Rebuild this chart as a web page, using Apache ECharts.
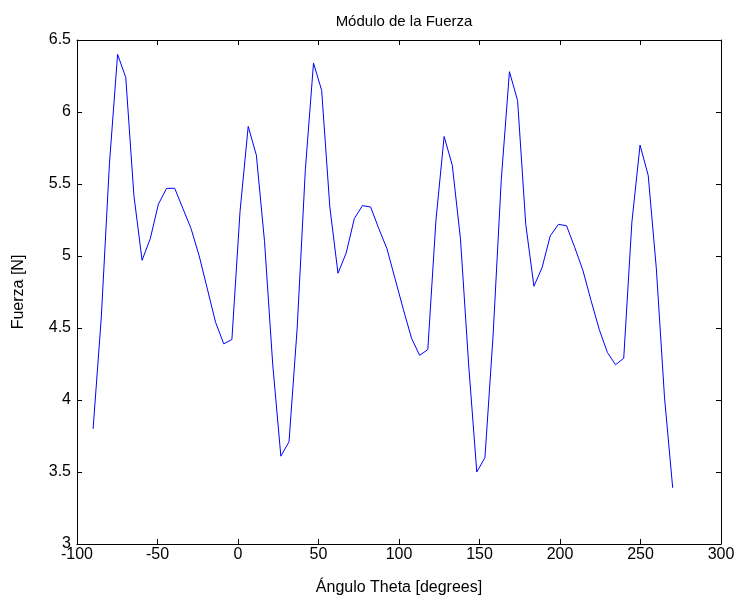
<!DOCTYPE html>
<html>
<head>
<meta charset="utf-8">
<script src="https://cdn.jsdelivr.net/npm/echarts@6/dist/echarts.min.js"></script>
<style>html,body{margin:0;padding:0;background:#fff}#c{width:740px;height:601px}</style>
</head>
<body>
<div id="c"></div>
<script>
const titleText = 'Módulo de la Fuerza';
const xName = 'Ángulo Theta [degrees]';
const yName = 'Fuerza [N]';
const angles = [-90, -84.93, -79.86, -74.79, -69.72, -64.65, -59.58, -54.51, -49.44, -44.37,
  -39.30, -34.23, -29.15, -24.08, -19.01, -13.94, -8.87, -3.80, 1.27, 6.34,
  11.41, 16.48, 21.55, 26.62, 31.69, 36.76, 41.83, 46.90, 51.97, 57.04,
  62.11, 67.18, 72.25, 77.32, 82.39, 87.46, 92.54, 97.61, 102.68, 107.75,
  112.82, 117.89, 122.96, 128.03, 133.10, 138.17, 143.24, 148.31, 153.38, 158.45,
  163.52, 168.59, 173.66, 178.73, 183.80, 188.87, 193.94, 199.01, 204.08, 209.15,
  214.23, 219.30, 224.37, 229.44, 234.51, 239.58, 244.65, 249.72, 254.79, 259.86,
  264.93, 270];
const fuerza = [3.80, 4.57, 5.64, 6.40, 6.24, 5.42, 4.97, 5.12, 5.36, 5.47,
  5.47, 5.33, 5.19, 5.00, 4.77, 4.54, 4.39, 4.42, 5.31, 5.90,
  5.70, 5.10, 4.25, 3.61, 3.71, 4.50, 5.60, 6.34, 6.15, 5.34,
  4.88, 5.02, 5.26, 5.35, 5.34, 5.19, 5.05, 4.84, 4.63, 4.43,
  4.31, 4.35, 5.25, 5.83, 5.63, 5.12, 4.25, 3.50, 3.60, 4.45,
  5.53, 6.28, 6.08, 5.22, 4.79, 4.92, 5.14, 5.22, 5.21, 5.06,
  4.90, 4.69, 4.49, 4.33, 4.245, 4.29, 5.235, 5.77, 5.56, 4.91,
  4.015, 3.39];

const data = angles.map((a, i) => [a, fuerza[i]]);
const font = '"Liberation Sans", Arial, sans-serif';
const axisCommon = {
  axisLine: { show: true, onZero: false, lineStyle: { color: '#000', width: 1 } },
  axisTick: { show: true, inside: true, length: 5, lineStyle: { color: '#000' } },
  splitLine: { show: false }
};
const chart = echarts.init(document.getElementById('c'), null, { renderer: 'canvas' });
chart.setOption({
  animation: false,
  backgroundColor: '#fff',
  title: {
    text: titleText, left: 399, top: 9, textAlign: 'center',
    textStyle: { fontFamily: font, fontSize: 15, fontWeight: 'normal', color: '#000' }
  },
  grid: { left: 77, right: 19, top: 40, bottom: 54 },
  xAxis: [
    Object.assign({
      type: 'value', min: -100, max: 300, interval: 50, position: 'bottom',
      name: xName, nameLocation: 'middle', nameGap: 36,
      nameTextStyle: { fontFamily: font, fontSize: 16, color: '#000' },
      axisLabel: { fontFamily: font, fontSize: 16, color: '#000', margin: 3 }
    }, axisCommon),
    Object.assign({
      type: 'value', min: -100, max: 300, interval: 50, position: 'top',
      axisLabel: { show: false }
    }, axisCommon)
  ],
  yAxis: [
    Object.assign({
      type: 'value', min: 3, max: 6.5, interval: 0.5, position: 'left',
      name: yName, nameLocation: 'middle', nameGap: 50,
      nameTextStyle: { fontFamily: font, fontSize: 16, color: '#000' },
      axisLabel: { fontFamily: font, fontSize: 16, color: '#000', margin: 6 }
    }, axisCommon),
    Object.assign({
      type: 'value', min: 3, max: 6.5, interval: 0.5, position: 'right',
      axisLabel: { show: false }
    }, axisCommon)
  ],
  series: [{
    type: 'line', data: data, xAxisIndex: 0, yAxisIndex: 0,
    showSymbol: false, symbol: 'none',
    lineStyle: { color: '#0000ff', width: 1 }
  }]
});
</script>
</body>
</html>
